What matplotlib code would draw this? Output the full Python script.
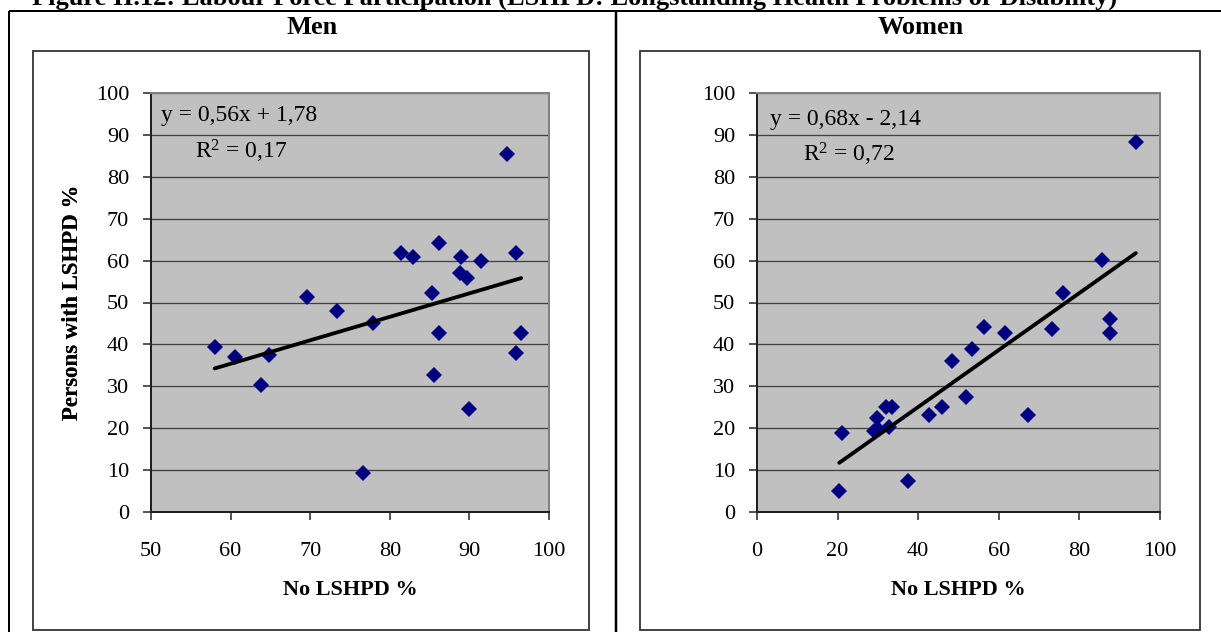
import matplotlib
matplotlib.use("Agg")
import numpy as np
import matplotlib.pyplot as plt
from matplotlib.patches import Rectangle

# ---- data -------------------------------------------------------------
men_no_lshpd = [58.0, 60.5, 63.8, 64.8, 69.6, 73.4, 76.6, 77.9, 81.4, 82.9,
                85.3, 85.6, 86.2, 86.2, 88.9, 88.8, 89.7, 89.9, 91.4, 94.7,
                95.9, 95.9, 96.5]
men_lshpd = [39.4, 37.0, 30.2, 37.5, 51.3, 47.9, 9.4, 45.1, 61.7, 60.8,
             52.2, 32.7, 64.1, 42.7, 60.8, 57.1, 55.9, 24.6, 59.8, 85.5,
             61.8, 37.9, 42.7]

women_no_lshpd = [20.4, 21.0, 29.0, 29.9, 30.1, 31.9, 32.8, 33.4, 37.4, 42.8,
                  45.8, 48.3, 51.9, 53.3, 56.3, 61.6, 67.2, 73.1, 76.0, 85.5,
                  87.6, 87.6, 94.0]
women_lshpd = [5.1, 18.9, 19.4, 22.5, 19.8, 25.1, 20.3, 25.1, 7.5, 23.2,
               25.1, 36.0, 27.5, 38.8, 44.1, 42.7, 23.2, 43.6, 52.2, 60.2,
               46.0, 42.7, 88.4]

men_slope, men_intercept, men_r2 = 0.56, 1.78, 0.17
women_slope, women_intercept, women_r2 = 0.68, -2.14, 0.72

men_xticks = [50, 60, 70, 80, 90, 100]
women_xticks = [0, 20, 40, 60, 80, 100]
yticks = [0, 10, 20, 30, 40, 50, 60, 70, 80, 90, 100]

title = ("Figure II.12: Labour Force Participation "
         "(LSHPD: Longstanding Health Problems or Disability)")
headers = ["Men", "Women"]
xlabel = "No LSHPD %"
ylabel = "Persons with LSHPD %"

# ---- figure -----------------------------------------------------------
W, H, DPI = 1221, 632, 100
plt.rcParams['font.family'] = ['Liberation Serif', 'DejaVu Serif']
plt.rcParams['mathtext.fontset'] = 'custom'
plt.rcParams['mathtext.rm'] = 'Liberation Serif'
plt.rcParams['mathtext.it'] = 'Liberation Serif:italic'
plt.rcParams['mathtext.bf'] = 'Liberation Serif:bold'

fig = plt.figure(figsize=(W / DPI, H / DPI), dpi=DPI)
PX = 72.0 / DPI  # points per pixel

# page-level layer in pixel coordinates for the table frame and headings
bg = fig.add_axes([0, 0, 1, 1], zorder=0)
bg.set_xlim(0, W)
bg.set_ylim(H, 0)
bg.axis('off')

bg.text(575, 5, title, ha='center', va='baseline', fontsize=19,
        fontweight='bold')
bg.plot([9, W], [11, 11], color='black', lw=2 * PX, solid_capstyle='butt')
bg.plot([9, 9], [11, H], color='black', lw=2 * PX, solid_capstyle='butt')
bg.plot([616, 616], [11, H], color='black', lw=2.5 * PX, solid_capstyle='butt')

for (x0, x1), name, hx in zip([(33, 589), (640, 1200)], headers, [312, 921]):
    bg.text(hx, 27, name, ha='center', va='center', fontsize=19,
            fontweight='bold')
    bg.add_patch(Rectangle((x0, 51), x1 - x0, 579, fill=False,
                           edgecolor='#333333', lw=1.8 * PX))


def panel(left, right, xs, ys, slope, intercept, r2, xticks,
          eq_pos, r2_pos):
    top, bottom = 93, 512
    ax = fig.add_axes([left / W, (H - bottom) / H, (right - left) / W,
                       (bottom - top) / H], zorder=2)
    ax.set_facecolor('#C0C0C0')
    ax.set_xlim(xticks[0], xticks[-1])
    ax.set_ylim(yticks[0], yticks[-1])
    ax.set_xticks(xticks)
    ax.set_yticks(yticks)
    ax.yaxis.grid(True, color='#404040', lw=1.3 * PX)
    ax.xaxis.grid(False)
    ax.set_axisbelow(True)
    for side in ('top', 'right'):
        ax.spines[side].set_color('#808080')
        ax.spines[side].set_linewidth(2 * PX)
    for side in ('left', 'bottom'):
        ax.spines[side].set_color('#202020')
        ax.spines[side].set_linewidth(2 * PX)
    ax.tick_params(axis='both', direction='out', length=8 * PX,
                   width=1.5 * PX, color='#202020', labelsize=16)
    ax.tick_params(axis='y', pad=14 * PX)
    ax.tick_params(axis='x', pad=22 * PX)

    ax.plot(xs, ys, linestyle='none', marker='D', ms=8.4,
            color='#000080', mec='#000080', mew=0, zorder=3)
    fx = np.array([min(xs), max(xs)])
    ax.plot(fx, slope * fx + intercept, color='black', lw=3.8 * PX,
            solid_capstyle='round', zorder=4)

    sign = '+' if intercept >= 0 else '-'
    eq = f"y = {slope:.2f}x {sign} {abs(intercept):.2f}".replace('.', ',')
    r2s = f"R$^{{2}}$ = {r2:.2f}".replace('.', ',')
    bg.text(eq_pos[0], eq_pos[1], eq, ha='left', va='center', fontsize=17,
            zorder=5)
    bg.text(r2_pos[0], r2_pos[1], r2s, ha='left', va='center', fontsize=17,
            zorder=5)

    ax.set_xlabel(xlabel, fontsize=16, fontweight='bold')
    ax.xaxis.set_label_coords(0.5, -(590 - bottom) / (bottom - top))
    ax.set_ylabel(ylabel, fontsize=16.5, fontweight='bold')
    ax.yaxis.set_label_coords(-(left - 72) / (right - left), 0.5)
    ax.xaxis.label.set_va('center')
    ax.yaxis.label.set_va('center')
    return ax


panel(151, 549, men_no_lshpd, men_lshpd, men_slope, men_intercept, men_r2,
      men_xticks, (161, 115), (195, 151))
panel(757, 1160, women_no_lshpd, women_lshpd, women_slope, women_intercept,
      women_r2, women_xticks, (770, 119), (803, 154))

# keep the text layer above the plot panels
bg.set_zorder(5)
bg.patch.set_visible(False)

fig.savefig("out.png", dpi=DPI)
